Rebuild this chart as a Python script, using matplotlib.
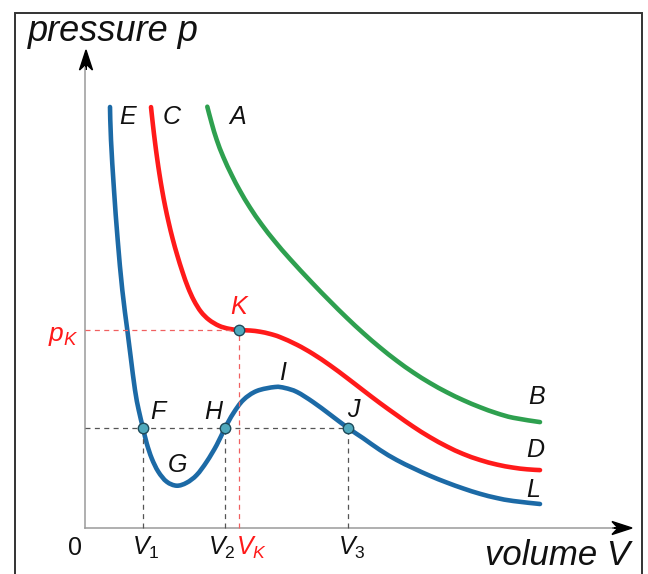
"""Van der Waals isotherms: pressure against volume, with the critical point K."""
import matplotlib
matplotlib.use('Agg')
import matplotlib.pyplot as plt
import numpy as np
from matplotlib.path import Path
from matplotlib.patches import PathPatch

plt.rcParams['font.family'] = ['Liberation Sans', 'DejaVu Sans']
plt.rcParams['mathtext.fontset'] = 'custom'
plt.rcParams['mathtext.it'] = 'Liberation Sans:italic'
plt.rcParams['mathtext.rm'] = 'Liberation Sans'

# Isotherm below the critical temperature (E -> L)
volume_low = [2.5, 2.6, 2.9, 3.27, 3.73, 4.23, 4.57, 5.0, 5.37, 5.8, 6.17, 6.67,
              7.33, 8.17, 9.17, 10.17, 11.17, 12.17, 13.17, 14.0, 14.83, 15.83,
              17.17, 19.0, 20.0, 21.2, 22.8, 24.5, 26.3, 27.83, 29.5, 31.17,
              32.83, 34.5, 36.17, 37.83, 39.5, 41.17, 42.83, 45.5]
pressure_low = [42.1, 38.8, 33.8, 28.8, 23.8, 19.8, 17.1, 13.8, 11.8, 10.0, 8.47,
                6.97, 5.63, 4.63, 4.23, 4.53, 5.3, 6.63, 8.3, 10.0, 11.47, 12.8,
                13.7, 14.1, 14.0, 13.6, 12.6, 11.35, 10.0, 8.97, 7.8, 6.8, 5.98,
                5.22, 4.55, 3.95, 3.42, 3.0, 2.7, 2.4]

# Critical isotherm (C -> D)
volume_crit = [6.6, 6.79, 6.99, 7.21, 7.45, 7.72, 8.02, 8.37, 8.77, 9.23, 9.75,
               10.3, 10.9, 11.6, 12.4, 13.4, 14.4, 15.4, 16.5, 17.5, 18.5, 19.5,
               21.2, 22.8, 24.5, 26.2, 27.8, 29.5, 31.2, 32.8, 34.5, 36.2, 37.8,
               39.5, 41.2, 42.8, 44.2, 45.5]
pressure_crit = [42.09, 40.34, 38.66, 36.99, 35.36, 33.74, 32.15, 30.54, 28.9,
                 27.26, 25.6, 24.06, 22.74, 21.62, 20.82, 20.22, 19.92, 19.8,
                 19.75, 19.63, 19.41, 19.09, 18.32, 17.41, 16.27, 15.01, 13.78,
                 12.49, 11.27, 10.15, 9.08, 8.15, 7.41, 6.8, 6.34, 6.04, 5.87, 5.79]

# Isotherm above the critical temperature (A -> B)
volume_high = [12.23, 12.67, 13.17, 13.83, 14.67, 15.5, 16.5, 17.67, 19.0, 20.5,
               22.67, 24.5, 26.17, 27.83, 29.5, 31.17, 32.83, 34.5, 36.17, 37.83,
               39.5, 41.17, 42.83, 45.5]
pressure_high = [42.13, 40.47, 38.82, 37.1, 35.29, 33.71, 32.04, 30.34, 28.64,
                 26.9, 24.56, 22.68, 21.03, 19.49, 18.05, 16.73, 15.55, 14.5,
                 13.58, 12.78, 12.08, 11.48, 11.02, 10.59]

# Marked points
v1, v2, v3 = 5.8, 14.0, 26.3
p_sat = 10.0
v_k, p_k = 15.4, 19.8

BLUE = '#1c6aa6'
RED = '#ff1a1a'
GREEN = '#2ea04f'
DOT_FILL = '#4fa9bd'
DOT_EDGE = '#1d4a5a'
GRAY_DASH = '#555555'
RED_DASH = '#f06060'


def smooth_path(xs, ys) -> Path:
    """Catmull-Rom curve through the read points, as cubic Bezier segments."""
    pts = np.column_stack([xs, ys])
    verts = [pts[0]]
    codes = [Path.MOVETO]
    for i in range(len(pts) - 1):
        p0 = pts[i - 1] if i > 0 else pts[i]
        p1, p2 = pts[i], pts[i + 1]
        p3 = pts[i + 2] if i + 2 < len(pts) else pts[i + 1]
        verts += [p1 + (p2 - p0) / 6, p2 - (p3 - p1) / 6, p2]
        codes += [Path.CURVE4] * 3
    return Path(verts, codes)


fig = plt.figure(figsize=(6.48, 5.74), dpi=100)
ax = fig.add_axes([0, 0, 1, 1])
ax.set_xlim(-8.5, 56.3)
ax.set_ylim(-4.6, 52.8)
ax.axis('off')

# frame around the drawing
ax.plot([-7.0, -7.0, 55.7, 55.7], [-6.0, 51.5, 51.5, -6.0], color='#333333',
        lw=1.4, clip_on=False, solid_joinstyle='miter')

# axes with arrow heads
ax.plot([0, 52.8], [0, 0], color='#9a9a9a', lw=1.1)
ax.plot([0, 0], [0, 46.0], color='#9a9a9a', lw=1.1)
ax.arrow(52.7, 0, 2.0, 0, head_width=1.3, head_length=2.0, width=0,
         length_includes_head=True, overhang=0.3, fc='black', ec='black')
ax.arrow(0.1, 45.8, 0, 2.0, head_width=1.3, head_length=2.0, width=0,
         length_includes_head=True, overhang=0.3, fc='black', ec='black')

# dashed guides
dash = dict(lw=0.9, dashes=(4, 3.5))
ax.plot([0, v3], [p_sat, p_sat], color=GRAY_DASH, **dash)
for v in (v1, v2, v3):
    ax.plot([v, v], [0, p_sat], color=GRAY_DASH, **dash)
ax.plot([0, v_k], [p_k, p_k], color=RED_DASH, **dash)
ax.plot([v_k, v_k], [0, p_k], color=RED_DASH, **dash)

# isotherms
for xs, ys, color in [(volume_high, pressure_high, GREEN),
                      (volume_crit, pressure_crit, RED),
                      (volume_low, pressure_low, BLUE)]:
    ax.add_patch(PathPatch(smooth_path(xs, ys), fill=False, ec=color, lw=3.3,
                           capstyle='round', joinstyle='round'))

ax.plot([v1, v2, v3, v_k], [p_sat, p_sat, p_sat, p_k], 'o', ms=7.5,
        mfc=DOT_FILL, mec=DOT_EDGE, mew=1.0, zorder=5)

# letters on the curves
label = dict(fontsize=18, style='italic', ha='center', va='center', color='#111111')
for text, x, y in [('E', 4.3, 41.1), ('C', 8.7, 41.1), ('A', 15.3, 41.1),
                   ('F', 7.3, 11.6), ('H', 12.8, 11.6), ('I', 19.8, 15.5),
                   ('J', 26.8, 11.8), ('G', 9.3, 6.3), ('B', 45.2, 13.1),
                   ('D', 45.0, 7.8), ('L', 44.8, 3.8)]:
    ax.text(x, y, text, **label)
ax.text(v_k, 22.1, 'K', **{**label, 'color': RED})
ax.text(-2.2, 19.2, r'$p_K$', fontsize=19, ha='center', va='center', color=RED)

# axis labels and tick names
tick = dict(fontsize=18, ha='center', va='baseline', color='#111111')
ax.text(-1.0, -2.7, '0', **tick)
ax.text(6.1, -2.7, r'$V_1$', **tick)
ax.text(13.7, -2.7, r'$V_2$', **tick)
ax.text(16.6, -2.7, r'$V_K$', **{**tick, 'color': RED})
ax.text(26.7, -2.7, r'$V_3$', **tick)

ax.text(-5.7, 48.7, 'pressure p', fontsize=26, style='italic', ha='left',
        va='baseline', color='#111111')
ax.text(54.5, -3.7, 'volume V', fontsize=25, style='italic', ha='right',
        va='baseline', color='#111111')

fig.savefig('out.png', dpi=100)
